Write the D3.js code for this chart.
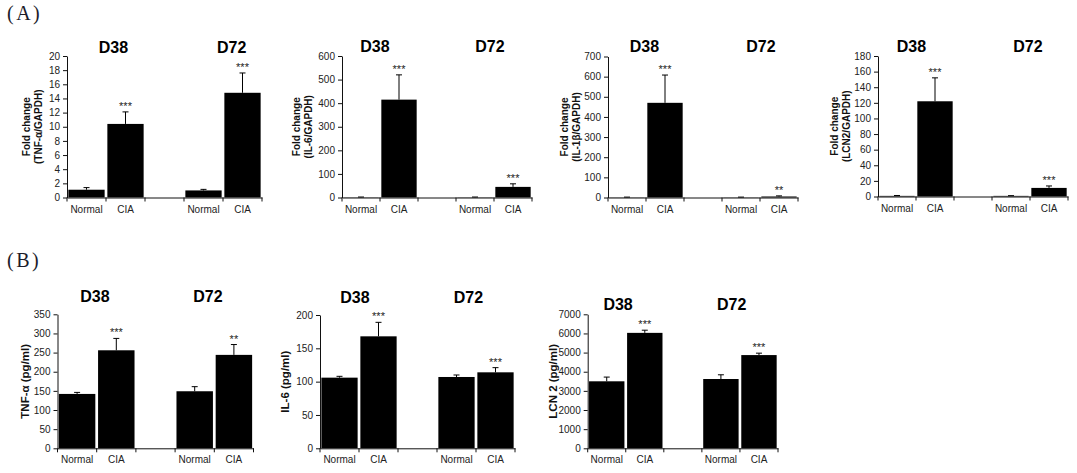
<!DOCTYPE html>
<html>
<head>
<meta charset="utf-8">
<script src="https://cdn.jsdelivr.net/npm/d3@7"></script>
<style>
  html, body { margin: 0; padding: 0; background: #fff; }
  svg { display: block; }
</style>
</head>
<body>
<svg id="chart" width="1077" height="473"></svg>
<script>
// ---------------- DATA ----------------
const categories = ["Normal", "CIA", "", "Normal", "CIA"];
const groups = ["D38", "D72"];
// order of bars: D38 Normal, D38 CIA, D72 Normal, D72 CIA
const tnfA_mean = [1.1, 10.4, 1.0, 14.8];
const tnfA_err  = [0.3, 1.7, 0.15, 2.8];
const tnfA_sig  = ["", "***", "", "***"];
const tnfA_ticks = [0, 2, 4, 6, 8, 10, 12, 14, 16, 18, 20];

const il6A_mean = [1, 415, 1, 45];
const il6A_err  = [1, 105, 1, 13];
const il6A_sig  = ["", "***", "", "***"];
const il6A_ticks = [0, 100, 200, 300, 400, 500, 600];

const il1bA_mean = [1, 470, 1, 5];
const il1bA_err  = [1, 138, 1, 3];
const il1bA_sig  = ["", "***", "", "**"];
const il1bA_ticks = [0, 100, 200, 300, 400, 500, 600, 700];

const lcn2A_mean = [0.8, 122, 0.8, 11];
const lcn2A_err  = [0.5, 30, 0.3, 2.5];
const lcn2A_sig  = ["", "***", "", "***"];
const lcn2A_ticks = [0, 20, 40, 60, 80, 100, 120, 140, 160, 180];

const tnfB_mean = [142, 256, 149, 244];
const tnfB_err  = [4, 31, 12, 27];
const tnfB_sig  = ["", "***", "", "**"];
const tnfB_ticks = [0, 50, 100, 150, 200, 250, 300, 350];

const il6B_mean = [106, 168, 107, 114];
const il6B_err  = [2, 21, 3, 7];
const il6B_sig  = ["", "***", "", "***"];
const il6B_ticks = [0, 50, 100, 150, 200];

const lcn2B_mean = [3500, 6030, 3620, 4870];
const lcn2B_err  = [220, 140, 220, 100];
const lcn2B_sig  = ["", "***", "", "***"];
const lcn2B_ticks = [0, 1000, 2000, 3000, 4000, 5000, 6000, 7000];

const panelLetters = ["(A)", "(B)"];

// ---------------- LAYOUT ----------------
const panels = [
  { mean: tnfA_mean, err: tnfA_err, sig: tnfA_sig, ticks: tnfA_ticks,
    label: ["Fold change", "(TNF-α/GAPDH)"], labelSize: 10,
    x0: 67, x1: 262, yTop: 56, yBot: 197.5, titleY: 53, titleDx: [7.5, 8.7], labelDx: -25 },
  { mean: il6A_mean, err: il6A_err, sig: il6A_sig, ticks: il6A_ticks,
    label: ["Fold change", "(IL-6/GAPDH)"], labelSize: 10,
    x0: 342, x1: 532, yTop: 56, yBot: 197.5, titleY: 52, titleDx: [-5, -4], labelDx: -30.5 },
  { mean: il1bA_mean, err: il1bA_err, sig: il1bA_sig, ticks: il1bA_ticks,
    label: ["Fold change", "(IL-1β/GAPDH)"], labelSize: 10,
    x0: 608, x1: 798, yTop: 56.5, yBot: 197.5, titleY: 52, titleDx: [-1.5, 1], labelDx: -28 },
  { mean: lcn2A_mean, err: lcn2A_err, sig: lcn2A_sig, ticks: lcn2A_ticks,
    label: ["Fold change", "(LCN2/GAPDH)"], labelSize: 10,
    x0: 878, x1: 1068, yTop: 56, yBot: 196.5, titleY: 52, titleDx: [-4.5, -2], labelDx: -28 },
  { mean: tnfB_mean, err: tnfB_err, sig: tnfB_sig, ticks: tnfB_ticks,
    label: ["TNF-α (pg/ml)"], labelSize: 11.5,
    x0: 57.5, x1: 253.5, yTop: 314.3, yBot: 448.3, titleY: 301.5, titleDx: [-1.8, -6.3], labelDx: -28.7 },
  { mean: il6B_mean, err: il6B_err, sig: il6B_sig, ticks: il6B_ticks,
    label: ["IL-6 (pg/ml)"], labelSize: 11.5,
    x0: 320, x1: 515, yTop: 315, yBot: 448.3, titleY: 303, titleDx: [-4, -7.5], labelDx: -31.4 },
  { mean: lcn2B_mean, err: lcn2B_err, sig: lcn2B_sig, ticks: lcn2B_ticks,
    label: ["LCN 2 (pg/ml)"], labelSize: 11.5,
    x0: 587.7, x1: 778, yTop: 314.3, yBot: 448.3, titleY: 309.5, titleDx: [-7.7, -8.3], labelDx: -31 }
];
const letterPos = [{ x: 7, y: 20 }, { x: 7, y: 267 }];

const FONT = "Arial, 'Liberation Sans', Helvetica, sans-serif";
const svg = d3.select("#chart");
svg.append("rect").attr("width", 1077).attr("height", 473).attr("fill", "#fff");

// panel letters
panelLetters.forEach((t, i) => {
  svg.append("text")
    .attr("x", letterPos[i].x).attr("y", letterPos[i].y)
    .attr("font-family", "'Liberation Serif', 'DejaVu Serif', serif")
    .attr("font-size", 20).attr("letter-spacing", 2.5)
    .attr("fill", "#1c1c2a")
    .text(t);
});

// bar index -> category index
const barCat = [0, 1, 3, 4];

panels.forEach(p => {
  const g = svg.append("g");
  const maxV = p.ticks[p.ticks.length - 1];
  const y = d3.scaleLinear().domain([0, maxV]).range([p.yBot, p.yTop]);
  const x = d3.scaleBand().domain(d3.range(categories.length))
    .range([p.x0, p.x1]).paddingInner(0.07).paddingOuter(0.035);

  // bars
  g.selectAll("rect.bar").data(p.mean).join("rect")
    .attr("class", "bar")
    .attr("x", (d, i) => x(barCat[i]))
    .attr("width", x.bandwidth())
    .attr("y", d => y(d))
    .attr("height", d => y(0) - y(d))
    .attr("fill", "#000");

  // error bars (upper only)
  p.mean.forEach((m, i) => {
    const cx = x(barCat[i]) + x.bandwidth() / 2;
    const top = y(m + p.err[i]);
    g.append("line").attr("x1", cx).attr("x2", cx).attr("y1", y(m)).attr("y2", top)
      .attr("stroke", "#000").attr("stroke-width", 1);
    g.append("line").attr("x1", cx - 3).attr("x2", cx + 3).attr("y1", top).attr("y2", top)
      .attr("stroke", "#000").attr("stroke-width", 1);
    if (p.sig[i]) {
      g.append("text").attr("x", cx).attr("y", top - 2)
        .attr("text-anchor", "middle")
        .attr("font-family", FONT).attr("font-size", 11).attr("fill", "#222")
        .text(p.sig[i]);
    }
  });

  // y axis
  const ya = g.append("g").attr("transform", `translate(${p.x0},0)`)
    .call(d3.axisLeft(y).tickValues(p.ticks).tickSize(4).tickPadding(3).tickSizeOuter(0)
      .tickFormat(d3.format("d")));
  ya.attr("font-family", FONT).attr("font-size", 10).attr("color", "#111");
  ya.selectAll("text").attr("fill", "#222");

  // x axis
  const xa = g.append("g").attr("transform", `translate(0,${p.yBot})`)
    .call(d3.axisBottom(x).tickSize(0).tickPadding(8).tickSizeOuter(0)
      .tickFormat(i => categories[i]));
  xa.attr("font-family", FONT).attr("font-size", 10).attr("color", "#111");
  xa.selectAll("text").attr("fill", "#222");
  const step = x.step();
  d3.range(categories.length + 1).forEach(k => {
    const bx = p.x0 + k * step;
    g.append("line").attr("x1", bx).attr("x2", bx).attr("y1", p.yBot).attr("y2", p.yBot + 4)
      .attr("stroke", "#111").attr("stroke-width", 1);
  });

  // group titles
  groups.forEach((t, gi) => {
    const c0 = barCat[gi * 2], c1 = barCat[gi * 2 + 1];
    const cx = (x(c0) + x(c1) + x.bandwidth()) / 2 + p.titleDx[gi];
    g.append("text").attr("x", cx).attr("y", p.titleY)
      .attr("text-anchor", "middle")
      .attr("font-family", FONT).attr("font-weight", "bold").attr("font-size", 16)
      .attr("fill", "#000").text(t);
  });

  // y label
  const midY = (p.yTop + p.yBot) / 2;
  const n = p.label.length;
  p.label.forEach((t, li) => {
    const bx = p.x0 + p.labelDx - (n - 1 - li) * 12;
    g.append("text")
      .attr("transform", `translate(${bx},${midY}) rotate(-90)`)
      .attr("text-anchor", "middle")
      .attr("font-family", FONT).attr("font-weight", "bold").attr("font-size", p.labelSize)
      .attr("fill", "#111").text(t);
  });
});
</script>
</body>
</html>
